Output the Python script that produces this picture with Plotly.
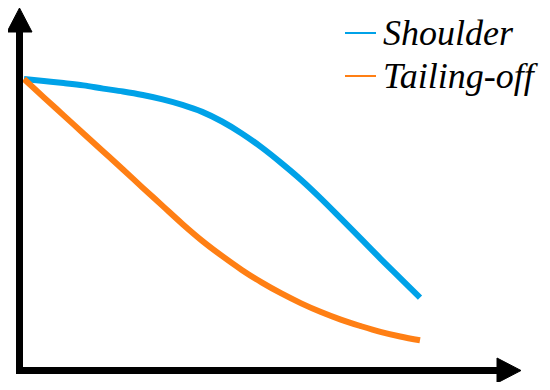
import plotly.graph_objects as go

# curve values (time in arbitrary units, surviving fraction)
time = [0, 0.5, 1, 1.5, 2, 2.5, 3, 3.5, 4, 4.5, 5,
        5.5, 6, 6.5, 7, 7.5, 8, 8.5, 9, 9.5, 10]
shoulder = [1.000, 0.993, 0.986, 0.978, 0.967, 0.957, 0.945, 0.930, 0.911, 0.887, 0.854,
            0.813, 0.765, 0.711, 0.653, 0.589, 0.521, 0.452, 0.383, 0.316, 0.249]
tailing_off = [1.000, 0.937, 0.875, 0.813, 0.751, 0.689, 0.626, 0.564, 0.502, 0.444, 0.392,
               0.344, 0.301, 0.263, 0.229, 0.199, 0.173, 0.151, 0.131, 0.115, 0.102]

names = ["Shoulder", "Tailing-off"]
colors = ["#00A2E8", "#FF7F14"]

# page body has an 8px margin, so the figure is drawn 8px in from the window edge
OFF = 8
W, H = 550 - 2 * OFF, 390 - 2 * OFF


def px(x):
    return (x - OFF) / W


def py(y):
    return 1 - (y - OFF) / H


fig = go.Figure()
for vals, name, color in zip([shoulder, tailing_off], names, colors):
    fig.add_trace(go.Scatter(x=time, y=vals, mode="lines", name=name,
                             line=dict(color=color, width=6, shape="spline"),
                             showlegend=False))

shapes = [
    # y axis with arrow head
    dict(type="line", xref="paper", yref="paper",
         x0=px(19.5), x1=px(19.5), y0=py(374), y1=py(30),
         line=dict(color="black", width=7)),
    dict(type="path", xref="paper", yref="paper",
         path=f"M{px(19.5)},{py(8)} L{px(7)},{py(32)} L{px(32)},{py(32)} Z",
         fillcolor="black", line=dict(color="black", width=1)),
    # x axis with arrow head
    dict(type="line", xref="paper", yref="paper",
         x0=px(16), x1=px(499), y0=py(370.5), y1=py(370.5),
         line=dict(color="black", width=7)),
    dict(type="path", xref="paper", yref="paper",
         path=f"M{px(521)},{py(370.5)} L{px(497)},{py(358)} L{px(497)},{py(383)} Z",
         fillcolor="black", line=dict(color="black", width=1)),
]

# hand-made legend
legend_y = [33, 76]
annotations = []
for name, color, ly in zip(names, colors, legend_y):
    shapes.append(dict(type="line", xref="paper", yref="paper",
                       x0=px(345), x1=px(376), y0=py(ly), y1=py(ly),
                       line=dict(color=color, width=2)))
    annotations.append(dict(text=name, xref="paper", yref="paper",
                            x=px(381), y=py(ly), xanchor="left", yanchor="middle",
                            showarrow=False,
                            font=dict(family="Liberation Serif", size=36,
                                      style="italic")))

# data scale: x=0 at window px 24, 39.6 px per unit; y=1 at window py 79, 291 px per unit
fig.update_layout(
    width=W, height=H,
    margin=dict(l=0, r=0, t=0, b=0),
    paper_bgcolor="white", plot_bgcolor="white",
    font=dict(family="Liberation Serif", color="black"),
    xaxis=dict(visible=False, range=[(OFF - 24) / 39.6, (OFF + W - 24) / 39.6]),
    yaxis=dict(visible=False, range=[(370 - OFF - H) / 291, (370 - OFF) / 291]),
    shapes=shapes, annotations=annotations,
)

fig.write_html("out.html")
